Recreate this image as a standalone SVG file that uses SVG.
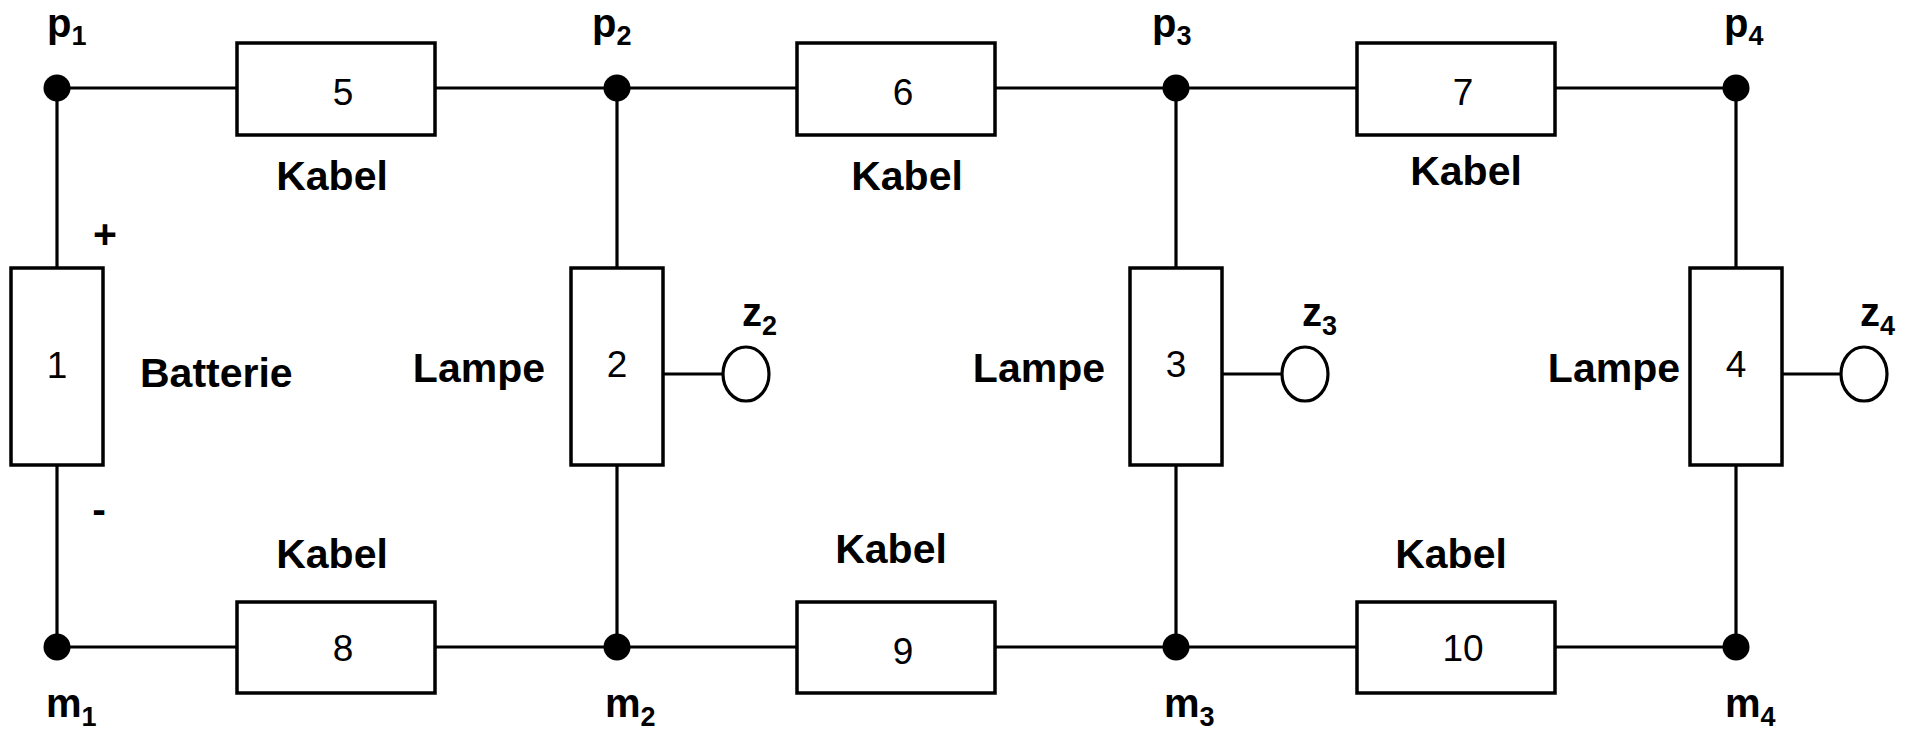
<svg xmlns="http://www.w3.org/2000/svg" width="1913" height="730" viewBox="0 0 1913 730">
<style>
  .box { fill: #fff; stroke: #000; stroke-width: 3.5; }
  .wire { fill: none; stroke: #000; stroke-width: 3.2; }
  .dot { fill: #000; }
  .term { fill: #fff; stroke: #000; stroke-width: 3.2; }
  .num { font-family: "Liberation Sans", Arial, sans-serif; font-size: 37px; fill: #000; text-anchor: middle; }
  .lbl { font-family: "Liberation Sans", Arial, sans-serif; font-size: 41px; font-weight: bold; fill: #000; }
  .nm { font-family: "Liberation Sans", Arial, sans-serif; font-size: 40px; font-weight: bold; fill: #000; }
  .sub { font-size: 27px; }
</style>
<rect width="1913" height="730" fill="#fff"/>
<g id="connectors">
  <path class="wire" d="M57 88 H237 M435 88 H797 M995 88 H1357 M1555 88 H1736"/>
  <path class="wire" d="M57 647 H237 M435 647 H797 M995 647 H1357 M1555 647 H1736"/>
  <path class="wire" d="M57 88 V268 M57 465 V647 M617 88 V268 M617 465 V647 M1176 88 V268 M1176 465 V647 M1736 88 V268 M1736 465 V647"/>
  <path class="wire" d="M663 374 H723 M1222 374 H1282 M1782 374 H1841"/>
</g>
<g id="comp1">
  <rect class="box" x="11" y="268" width="92" height="197"/>
  <text class="num" x="57" y="378">1</text>
  <text class="lbl" x="140" y="387">Batterie</text>
  <text class="lbl" x="105" y="248" text-anchor="middle">+</text>
  <text class="lbl" x="99" y="523" text-anchor="middle">-</text>
</g>
<g id="comp2">
  <rect class="box" x="571" y="268" width="92" height="197"/>
  <text class="num" x="617" y="377">2</text>
  <text class="lbl" x="545" y="382" text-anchor="end">Lampe</text>
</g>
<g id="comp3">
  <rect class="box" x="1130" y="268" width="92" height="197"/>
  <text class="num" x="1176" y="377">3</text>
  <text class="lbl" x="1105" y="382" text-anchor="end">Lampe</text>
</g>
<g id="comp4">
  <rect class="box" x="1690" y="268" width="92" height="197"/>
  <text class="num" x="1736" y="377">4</text>
  <text class="lbl" x="1680" y="382" text-anchor="end">Lampe</text>
</g>
<g id="comp5">
  <rect class="box" x="237" y="43" width="198" height="92"/>
  <text class="num" x="343" y="105">5</text>
  <text class="lbl" x="332" y="190" text-anchor="middle">Kabel</text>
</g>
<g id="comp6">
  <rect class="box" x="797" y="43" width="198" height="92"/>
  <text class="num" x="903" y="105">6</text>
  <text class="lbl" x="907" y="190" text-anchor="middle">Kabel</text>
</g>
<g id="comp7">
  <rect class="box" x="1357" y="43" width="198" height="92"/>
  <text class="num" x="1463" y="105">7</text>
  <text class="lbl" x="1466" y="185" text-anchor="middle">Kabel</text>
</g>
<g id="comp8">
  <rect class="box" x="237" y="602" width="198" height="91"/>
  <text class="num" x="343" y="661">8</text>
  <text class="lbl" x="332" y="568" text-anchor="middle">Kabel</text>
</g>
<g id="comp9">
  <rect class="box" x="797" y="602" width="198" height="91"/>
  <text class="num" x="903" y="664">9</text>
  <text class="lbl" x="891" y="563" text-anchor="middle">Kabel</text>
</g>
<g id="comp10">
  <rect class="box" x="1357" y="602" width="198" height="91"/>
  <text class="num" x="1463" y="661">10</text>
  <text class="lbl" x="1451" y="568" text-anchor="middle">Kabel</text>
</g>
<g id="p1"><circle class="dot" cx="57" cy="88" r="13.5"/><text class="nm" x="47" y="37">p<tspan class="sub" dy="8">1</tspan></text></g>
<g id="p2"><circle class="dot" cx="617" cy="88" r="13.5"/><text class="nm" x="592" y="37">p<tspan class="sub" dy="8">2</tspan></text></g>
<g id="p3"><circle class="dot" cx="1176" cy="88" r="13.5"/><text class="nm" x="1152" y="37">p<tspan class="sub" dy="8">3</tspan></text></g>
<g id="p4"><circle class="dot" cx="1736" cy="88" r="13.5"/><text class="nm" x="1724" y="37">p<tspan class="sub" dy="8">4</tspan></text></g>
<g id="m1"><circle class="dot" cx="57" cy="647" r="13.5"/><text class="nm" x="46" y="717">m<tspan class="sub" dy="9">1</tspan></text></g>
<g id="m2"><circle class="dot" cx="617" cy="647" r="13.5"/><text class="nm" x="605" y="717">m<tspan class="sub" dy="9">2</tspan></text></g>
<g id="m3"><circle class="dot" cx="1176" cy="647" r="13.5"/><text class="nm" x="1164" y="717">m<tspan class="sub" dy="9">3</tspan></text></g>
<g id="m4"><circle class="dot" cx="1736" cy="647" r="13.5"/><text class="nm" x="1725" y="717">m<tspan class="sub" dy="9">4</tspan></text></g>
<g id="z2"><ellipse class="term" cx="746" cy="374" rx="23" ry="27"/><text class="nm" x="742" y="326">z<tspan class="sub" dy="9">2</tspan></text></g>
<g id="z3"><ellipse class="term" cx="1305" cy="374" rx="23" ry="27"/><text class="nm" x="1302" y="326">z<tspan class="sub" dy="9">3</tspan></text></g>
<g id="z4"><ellipse class="term" cx="1864" cy="374" rx="23" ry="27"/><text class="nm" x="1860" y="326">z<tspan class="sub" dy="9">4</tspan></text></g>
</svg>
